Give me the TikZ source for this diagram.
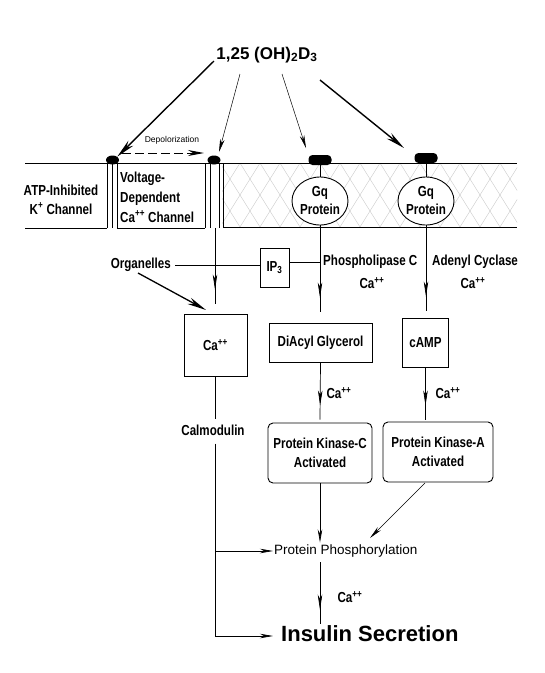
\documentclass[tikz,border=0pt]{standalone}
\usepackage{fontspec}
\setmainfont{Liberation Sans}
\newfontfamily\cond{Liberation Sans}[FakeStretch=0.8]
\usetikzlibrary{arrows.meta,decorations.markings,shapes.geometric,calc}
\tikzset{
  lbl/.style={font=\cond\bfseries\fontsize{14.5}{19}\selectfont, inner sep=0pt, align=center},
  lblL/.style={lbl, align=left},
  small/.style={font=\fontsize{13.5}{16}\selectfont, inner sep=0pt},
  box/.style={draw, line width=0.9pt, inner sep=0pt},
  rbox/.style={box, rounded corners=5pt},
  ln/.style={line width=0.7pt},
  thinarr/.style={ln, -{Stealth[length=13pt,width=4.5pt,inset=4pt]}},
  boldarr/.style={line width=1.4pt, -{Stealth[length=19pt,width=7pt,inset=6pt]}},
  midarr/.style={ln, postaction={decorate, decoration={markings,
      mark=at position -14pt with {\arrow{Stealth[length=15pt,width=4.5pt,inset=4pt]}}}}},
  memb/.style={line width=0.9pt},
  hatch/.style={gray!45, line width=0.35pt},
  knob/.style={fill=black, ellipse, inner sep=0pt, minimum width=13pt, minimum height=9pt},
  gknob/.style={fill=black, rounded corners=4pt, inner sep=0pt, minimum width=23pt, minimum height=10pt},
  gq/.style={draw, fill=white, ellipse, line width=0.9pt, inner sep=0pt, minimum width=56pt, minimum height=48pt},
}
\begin{document}
\begin{tikzpicture}[x=1pt,y=-1pt]
\useasboundingbox (0,0) rectangle (545,673);
\fill[white] (0,0) rectangle (545,673);

% hatched membrane part
\begin{scope}
  \clip (222,163) rectangle (517,227);
  \foreach \x in {140,160,...,540} {
    \draw[hatch] (\x,163) -- (\x+40,227);
    \draw[hatch] (\x+40,163) -- (\x,227);
  }
\end{scope}

% membrane lines
\draw[memb] (25,163) -- (517,163);
\draw[memb] (25,228) -- (107,228);
\draw[memb] (117,228) -- (205,228);
\draw[memb] (223,227) -- (517,227);
\foreach \x in {107,112,117} \draw[ln] (\x,163) -- (\x,228);
\foreach \x in {205,210,219,223} \draw[ln] (\x,163) -- (\x,228);

% knobs
\node[knob] (k1) at (112.5,160) {};
\node[knob] (k2) at (214,160) {};
\node[gknob] (k3) at (320,160) {};
\node[gknob] (k4) at (426,158) {};

% Gq proteins
\node[gq] (g1) at (320,201) {};
\node[gq] (g2) at (426,201) {};
\draw[ln] (k3) -- (g1.north);
\draw[ln] (k4) -- (g2.north);
\node[lbl, font=\cond\bfseries\fontsize{14.5}{18}\selectfont] at (g1) {Gq\\Protein};
\node[lbl, font=\cond\bfseries\fontsize{14.5}{18}\selectfont] at (g2) {Gq\\Protein};

% title
\node[font=\bfseries\fontsize{17}{20}\selectfont, inner sep=0pt] (title) at (267,55) {1,25 (OH)\textsubscript{2}D\textsubscript{3}};
\coordinate (t1) at (214,61);
\coordinate (t2) at (240,74);
\coordinate (t3) at (282,74);
\coordinate (t4) at (320,80);
\coordinate (e2) at (219,152);
\coordinate (e3) at (306,148);
\coordinate (e4) at (404,148);
\draw[boldarr] (t1) -- (k1.north east);
\draw[thinarr, line width=0.5pt] (t2) -- (e2);
\draw[thinarr, line width=0.5pt] (t3) -- (e3);
\draw[boldarr] (t4) -- (e4);

% depolarization
\node[font=\fontsize{8.5}{10}\selectfont, inner sep=0pt] (dep) at (172,140) {Depolorization};
\coordinate (d1) at (122,153);
\coordinate (d2) at (204,153);
\draw[line width=1pt, dash pattern=on 9pt off 4pt, -{Stealth[length=16pt,width=6pt,inset=5pt]}] (d1) -- (d2);

% channel labels
\node[lbl] (atp) at (61,199.5) {ATP-Inhibited\\K\textsuperscript{+} Channel};
\node[lblL, anchor=west, font=\cond\bfseries\fontsize{14.5}{20}\selectfont] (vdc) at (120,197) {Voltage-\\Dependent\\Ca\textsuperscript{++} Channel};

% second tier
\node[box, minimum width=29pt, minimum height=39pt] (ip) at (274.5,267.5) {};
\node[lbl] at (ip) {IP\textsubscript{3}};
\node[lbl, anchor=east] (org) at (171,265) {Organelles};
\node[lbl, anchor=west] (plc) at (323,262) {Phospholipase C};
\node[lbl] (plcca) at (372,283) {Ca\textsuperscript{++}};
\node[lbl, anchor=west] (ac) at (432,262) {Adenyl Cyclase};
\node[lbl] (acca) at (473,283) {Ca\textsuperscript{++}};

% boxes
\node[box, minimum width=63pt, minimum height=62pt] (ca) at (215.5,345) {};
\node[lbl] at (ca) {Ca\textsuperscript{++}};
\node[box, minimum width=103pt, minimum height=39pt] (dag) at (320.5,342.5) {};
\node[lbl] at (dag) {DiAcyl Glycerol};
\node[box, minimum width=46pt, minimum height=49pt] (camp) at (425.5,342.5) {};
\node[lbl] at (camp) {cAMP};
\node[rbox, minimum width=104pt, minimum height=60pt] (pkc) at (320,453) {};
\node[lbl] at (pkc) {Protein Kinase-C\\Activated};
\node[rbox, minimum width=110pt, minimum height=60pt] (pka) at (438,452) {};
\node[lbl] at (pka) {Protein Kinase-A\\Activated};

\node[lbl] (calm) at (213,430) {Calmodulin};
\node[lbl] (dagca) at (339,393) {Ca\textsuperscript{++}};
\node[lbl] (campca) at (448,393) {Ca\textsuperscript{++}};
\node[small, anchor=west] (pp) at (274,551) {Protein Phosphorylation};
\node[lbl] (ppca) at (350,597) {Ca\textsuperscript{++}};
\node[font=\bfseries\fontsize{22}{26}\selectfont, inner sep=0pt, anchor=west] (ins) at (281,634) {Insulin Secretion};

% connectors
\coordinate (chb) at (215,228);
\draw[midarr] (chb) -- ($(chb |- ca.north)+(0,-10)$);
\draw[ln] ($(org.east)+(4,0)$) -- (org.east -| ip.west);
\draw[ln] (ip.east |- plc.west) -- (g1.south |- plc.west);
\draw[midarr] (g1.south) -- ($(g1.south |- dag.north)+(0,-11)$);
\draw[midarr] (g2.south) -- ($(g2.south |- camp.north)+(0,-7)$);
\coordinate (o1) at (138,273);
\coordinate (o2) at (206,310);
\draw[boldarr, line width=1.3pt] (o1) -- (o2);

\draw[ln] (ca.south -| chb) -- ($(calm.north -| chb)+(0,-5)$);
\draw[midarr] (dag.south) -- ($(pkc.north)+(0,-3)$);
\draw[midarr] (camp.south) -- ($(camp.south |- pka.north)+(0,-2)$);
\draw[thinarr] (pkc.south) -- ($(pkc.south |- pp.north)+(0,-2)$);
\coordinate (pkaout) at (425,483);
\coordinate (ppin) at (370,538);
\draw[thinarr, line width=0.5pt] (pkaout) -- (ppin);
\draw[midarr] ($(pp.south -| pkc.south)+(0,5)$) -- ($(ins.north -| pkc.south)+(0,-2)$);

\draw[ln, -{Stealth[length=13pt,width=4.5pt,inset=4pt]}] ($(calm.south -| chb)+(0,8)$) |- ($(ins.west)+(-8,2)$);
\draw[thinarr] (chb |- pp.west) -- ($(pp.west)+(-1,0)$);
\end{tikzpicture}
\end{document}
